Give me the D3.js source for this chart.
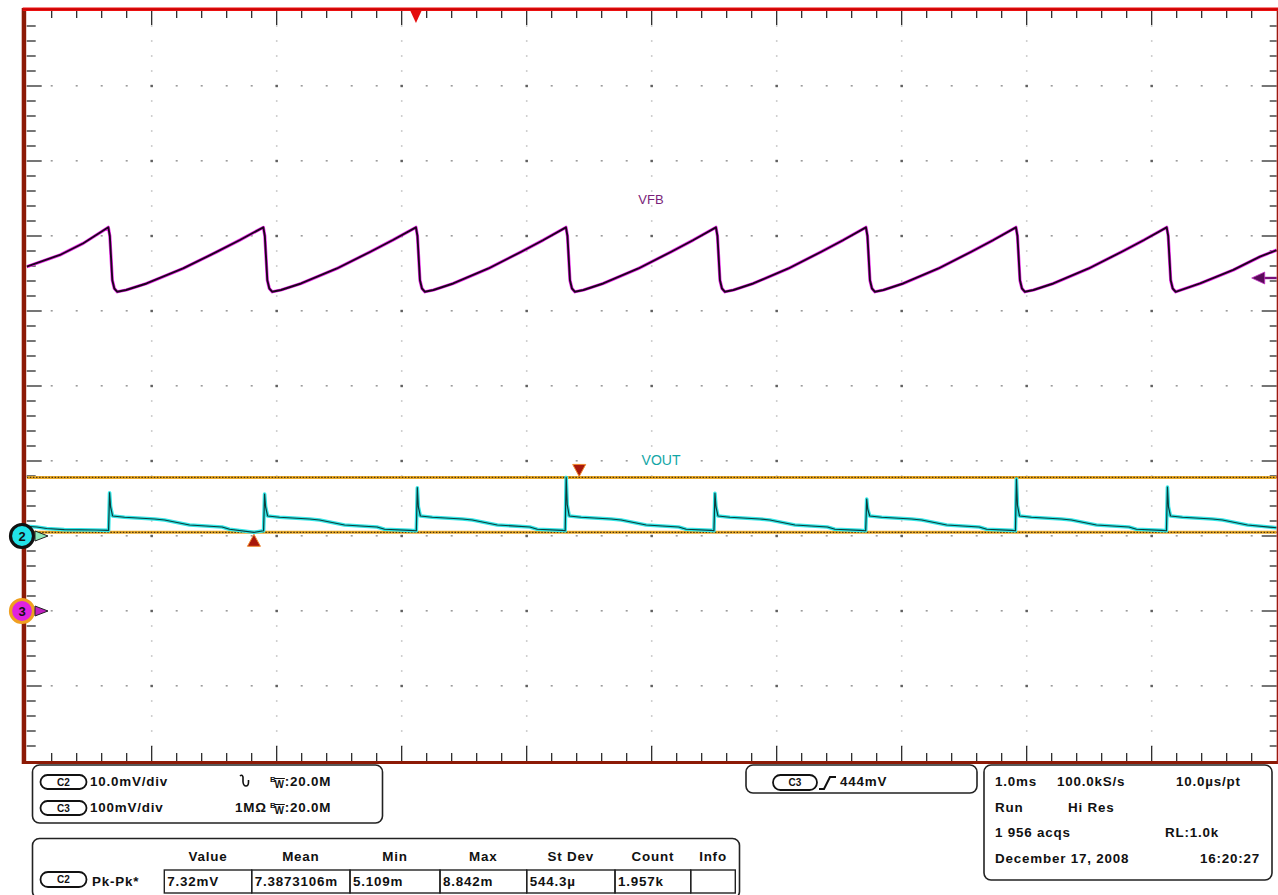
<!DOCTYPE html>
<html>
<head>
<meta charset="utf-8">
<script src="https://cdn.jsdelivr.net/npm/d3@7"></script>
<style>
  body { margin: 0; background: #fff; }
  svg { display: block; }
  text { font-family: "Liberation Sans", Arial, sans-serif; }
</style>
</head>
<body>
<svg id="scope" width="1278" height="895"></svg>
<script>
// ---- Acquisition: 10 divisions of 1.0 ms ----
const timeDomain = [0, 10];          // ms across the screen
const divDomain = [-5, 5];           // vertical divisions

// Channel setup (volts/div and ground position in divisions)
const ch2Scale = 10;   // mV/div  (VOUT)
const ch2Ground = -2;  // div
const ch3Scale = 100;  // mV/div  (VFB)
const ch3Ground = -3;  // div
const triggerLevel = 444;   // mV on C3
const triggerTime = 3.114;  // ms, trigger position marker

// VFB (channel 3) trace: [time ms, mV]
const vfbTrace = [
  [0, 459.1], [0.266, 474.7], [0.453, 490.3], [0.653, 511.6],
  [0.665, 500], [0.685, 441], [0.701, 430], [0.725, 425.6],
  [0.795, 428.0], [0.959, 436.7], [1.251, 456.7], [1.519, 478.7], [1.706, 494.7], [1.893, 511.6],
  [1.905, 500], [1.925, 441], [1.941, 430], [1.965, 425.6],
  [2.034, 428.0], [2.195, 436.7], [2.482, 456.7], [2.746, 478.7], [2.930, 494.7], [3.114, 511.6],
  [3.126, 500], [3.146, 441], [3.162, 430], [3.186, 425.6],
  [3.254, 428.0], [3.412, 436.7], [3.694, 456.7], [3.953, 478.7], [4.134, 494.7], [4.314, 511.6],
  [4.326, 500], [4.346, 441], [4.362, 430], [4.386, 425.6],
  [4.454, 428.0], [4.612, 436.7], [4.894, 456.7], [5.153, 478.7], [5.334, 494.7], [5.514, 511.6],
  [5.526, 500], [5.546, 441], [5.562, 430], [5.586, 425.6],
  [5.654, 428.0], [5.812, 436.7], [6.094, 456.7], [6.353, 478.7], [6.534, 494.7], [6.714, 511.6],
  [6.726, 500], [6.746, 441], [6.762, 430], [6.786, 425.6],
  [6.854, 428.0], [7.012, 436.7], [7.294, 456.7], [7.553, 478.7], [7.734, 494.7], [7.914, 511.6],
  [7.926, 500], [7.946, 441], [7.962, 430], [7.986, 425.6],
  [8.054, 428.0], [8.213, 436.7], [8.496, 456.7], [8.757, 478.7], [8.939, 494.7], [9.120, 511.6],
  [9.132, 500], [9.152, 441], [9.168, 430], [9.192, 425.6],
  [9.387, 436.7], [9.653, 454.7], [9.866, 472.4], [10.0, 481.3]
];

// VOUT (channel 2) ripple trace: [time ms, mV]
const voutTrace = [
  [0, 1.3], [0.08, 1.2], [0.16, 1.0], [0.30, 0.85], [0.55, 0.8], [0.655, 0.75],
  [0.663, 5.77], [0.671, 3.9], [0.687, 2.67], [0.783, 2.5], [1.023, 2.27], [1.103, 2.13],
  [1.303, 1.47], [1.563, 1.2], [1.623, 0.9], [1.818, 0.49], [1.895, 0.7],
  [1.903, 5.60], [1.911, 3.9], [1.927, 2.67], [2.023, 2.5], [2.263, 2.27], [2.343, 2.13],
  [2.543, 1.47], [2.803, 1.2], [2.863, 0.9], [3.063, 0.75], [3.117, 0.7],
  [3.125, 6.44], [3.133, 3.9], [3.149, 2.67], [3.245, 2.5], [3.485, 2.27], [3.565, 2.13],
  [3.765, 1.47], [4.025, 1.2], [4.085, 0.9], [4.285, 0.75], [4.308, 0.7],
  [4.316, 7.81], [4.324, 4.2], [4.340, 2.67], [4.436, 2.5], [4.676, 2.27], [4.756, 2.13],
  [4.956, 1.47], [5.216, 1.2], [5.276, 0.9], [5.476, 0.75], [5.498, 0.7],
  [5.506, 5.69], [5.514, 3.9], [5.530, 2.67], [5.626, 2.5], [5.866, 2.27], [5.946, 2.13],
  [6.146, 1.47], [6.406, 1.2], [6.466, 0.9], [6.666, 0.75], [6.712, 0.7],
  [6.720, 4.93], [6.728, 3.6], [6.744, 2.67], [6.840, 2.5], [7.080, 2.27], [7.160, 2.13],
  [7.360, 1.47], [7.620, 1.2], [7.680, 0.9], [7.880, 0.75], [7.910, 0.7],
  [7.918, 7.60], [7.926, 4.1], [7.942, 2.67], [8.038, 2.5], [8.278, 2.27], [8.358, 2.13],
  [8.558, 1.47], [8.818, 1.2], [8.878, 0.9], [9.078, 0.75], [9.118, 0.7],
  [9.126, 6.53], [9.134, 3.9], [9.150, 2.67], [9.246, 2.5], [9.486, 2.27], [9.566, 2.13],
  [9.766, 1.47], [10.0, 1.1]
];

// Pk-Pk annotation marker times (ms)
const maxMarkerTime = 4.42;
const minMarkerTime = 1.818;

// Readout panels
const chanRows = [
  { ch: "C2", scale: "10.0mV/div", coupling: "AC", bw: "20.0M" },
  { ch: "C3", scale: "100mV/div",  coupling: "1M\u03A9", bw: "20.0M" }
];
const trigSource = "C3";
const trigText = "444mV";
const measHeaders = ["Value", "Mean", "Min", "Max", "St Dev", "Count", "Info"];
const measValues = ["7.32mV", "7.3873106m", "5.109m", "8.842m", "544.3\u00B5", "1.957k", ""];
const measName = "Pk-Pk*";
const acqLines = [
  ["1.0ms", "100.0kS/s", "10.0\u00B5s/pt"],
  ["Run", "Hi Res", ""],
  ["1 956 acqs", "", "RL:1.0k"],
  ["December 17, 2008", "", "16:20:27"]
];

// ---- Scales ----
const svg = d3.select("#scope");
const x = d3.scaleLinear().domain(timeDomain).range([26.7, 1276.7]);
const yDiv = d3.scaleLinear().domain(divDomain).range([761, 11]);
const y2 = v => yDiv(v / ch2Scale + ch2Ground);
const y3 = v => yDiv(v / ch3Scale + ch3Ground);

const pL = x(0), pR = x(10), pT = yDiv(5), pB = yDiv(-5);

// ---- Graticule dots ----
const grid = svg.append("g");
const majorT = d3.range(1, 10);
const majorD = d3.range(-4, 5);
const minorT = d3.range(0.2, 10, 0.2);
const minorD = d3.range(-4.8, 5, 0.2);
majorD.forEach(d => {
  grid.selectAll(null).data(minorT).enter().append("rect")
    .attr("x", t => x(t) - 1).attr("y", yDiv(d) - 1)
    .attr("width", 2).attr("height", 1.6).attr("fill", "#9c9c9c");
});
majorT.forEach(t => {
  grid.selectAll(null).data(minorD).enter().append("rect")
    .attr("x", x(t) - 0.8).attr("y", d => yDiv(d) - 0.8)
    .attr("width", 1.6).attr("height", 1.6).attr("fill", "#c4c4c4");
});
majorT.forEach(t => {
  grid.selectAll(null).data(majorD).enter().append("rect")
    .attr("x", x(t) - 1.2).attr("y", d => yDiv(d) - 1.2)
    .attr("width", 2.4).attr("height", 2.4).attr("fill", "#606060");
});

// ---- Frame ticks ----
const ticks = svg.append("g").attr("stroke", "#1a1a1a").attr("stroke-width", 1.2);
const allT = d3.range(0.2, 10, 0.2);
const allD = d3.range(-4.8, 5, 0.2);
const isMajor = v => Math.abs(v - Math.round(v)) < 1e-6;
ticks.selectAll(null).data(allT).enter().append("line")
  .attr("x1", t => x(t)).attr("x2", t => x(t))
  .attr("y1", pT).attr("y2", t => pT + (isMajor(t) ? 14 : 7));
ticks.selectAll(null).data(allT).enter().append("line")
  .attr("x1", t => x(t)).attr("x2", t => x(t))
  .attr("y1", pB).attr("y2", t => pB - (isMajor(t) ? 15 : 8));
ticks.selectAll(null).data(allD).enter().append("line")
  .attr("y1", d => yDiv(d)).attr("y2", d => yDiv(d))
  .attr("x1", pL).attr("x2", d => pL + (isMajor(d) ? 15 : 9));
ticks.selectAll(null).data(allD).enter().append("line")
  .attr("y1", d => yDiv(d)).attr("y2", d => yDiv(d))
  .attr("x1", pR).attr("x2", d => pR - (isMajor(d) ? 15 : 7));

// ---- Traces ----
svg.append("clipPath").attr("id", "plotClip").append("rect")
  .attr("x", pL).attr("y", pT).attr("width", pR - pL).attr("height", pB - pT);
const traces = svg.append("g").attr("clip-path", "url(#plotClip)");

// Pk-Pk max/min level lines for C2
const vMax = d3.max(voutTrace, d => d[1]);
const vMin = d3.min(voutTrace, d => d[1]);
[vMax, vMin].forEach(v => {
  traces.append("line").attr("x1", pL).attr("x2", pR)
    .attr("y1", y2(v)).attr("y2", y2(v))
    .attr("stroke", "#e9aa2a").attr("stroke-width", 3);
  traces.append("line").attr("x1", pL).attr("x2", pR)
    .attr("y1", y2(v)).attr("y2", y2(v))
    .attr("stroke", "#4a3410").attr("stroke-width", 1.2).attr("stroke-dasharray", "1.5,1.6");
});

const line2 = d3.line().x(d => x(d[0])).y(d => y2(d[1]));
const line3 = d3.line().x(d => x(d[0])).y(d => y3(d[1]));

traces.append("path").attr("d", line2(voutTrace)).attr("fill", "none")
  .attr("stroke", "#33e6e6").attr("stroke-width", 3.6).attr("stroke-linejoin", "round");
traces.append("path").attr("d", line2(voutTrace)).attr("fill", "none")
  .attr("stroke", "#0d3c3c").attr("stroke-width", 1.2).attr("stroke-linejoin", "round");

traces.append("path").attr("d", line3(vfbTrace)).attr("fill", "none")
  .attr("stroke", "#f030f0").attr("stroke-width", 3.2).attr("stroke-linejoin", "round");
traces.append("path").attr("d", line3(vfbTrace)).attr("fill", "none")
  .attr("stroke", "#1c051c").attr("stroke-width", 1.9).attr("stroke-linejoin", "round");

// Trace labels
function traceLabel(cx, by, s, size, color, w) {
  svg.append("rect").attr("x", cx - w / 2).attr("y", by - size + 1).attr("width", w).attr("height", size)
    .attr("fill", "#fff");
  svg.append("text").attr("x", cx).attr("y", by).attr("text-anchor", "middle")
    .attr("font-size", size).attr("fill", color).text(s);
}
traceLabel(651, 204, "VFB", 13, "#7a1f7a", 28);
traceLabel(661, 465, "VOUT", 14, "#12a6a6", 40);

// ---- Frame border ----
svg.append("rect").attr("x", pL - 5).attr("y", pT - 3).attr("width", 4.5).attr("height", pB - pT + 6).attr("fill", "#8c1a06");
svg.append("rect").attr("x", pL - 4).attr("y", pB).attr("width", pR - pL + 5).attr("height", 3).attr("fill", "#8c1a06");
svg.append("rect").attr("x", pR).attr("y", pT - 3).attr("width", 2).attr("height", pB - pT + 6).attr("fill", "#9c1a10");
svg.append("rect").attr("x", pL - 4).attr("y", pT - 3.5).attr("width", pR - pL + 6).attr("height", 3.5).attr("fill", "#ec1010");
svg.append("line").attr("x1", pL - 4).attr("x2", pR + 2).attr("y1", pT - 1.8).attr("y2", pT - 1.8)
  .attr("stroke", "#b80000").attr("stroke-width", 1);

// ---- Markers ----
// trigger position
const tp = x(triggerTime);
svg.append("path").attr("d", `M${tp - 6},${pT - 1} L${tp + 6},${pT - 1} L${tp},${pT + 12} Z`).attr("fill", "#e50d0d");

// Pk-Pk max / min markers
const mx = x(maxMarkerTime), my = y2(vMax);
svg.append("path").attr("d", `M${mx - 6.5},${my - 13} L${mx + 6.5},${my - 13} L${mx},${my - 1} Z`)
  .attr("fill", "#a8180c").attr("stroke", "#f08a30").attr("stroke-width", 1);
const nx = x(minMarkerTime), ny = y2(vMin);
svg.append("path").attr("d", `M${nx - 6.5},${ny + 14} L${nx + 6.5},${ny + 14} L${nx},${ny + 2} Z`)
  .attr("fill", "#a8180c").attr("stroke", "#f08a30").attr("stroke-width", 1);

// trigger level arrow (right edge)
const ty = y3(triggerLevel);
svg.append("line").attr("x1", pR - 14).attr("x2", pR).attr("y1", ty).attr("y2", ty)
  .attr("stroke", "#7a107a").attr("stroke-width", 2.4);
svg.append("path").attr("d", `M${pR - 25},${ty} L${pR - 12},${ty - 6} L${pR - 12},${ty + 6} Z`)
  .attr("fill", "#5a0a5a").attr("stroke", "#c030c0").attr("stroke-width", 0.8);

// channel ground markers
function chanMarker(cy, label, fill, ring, ringW, arrowFill) {
  const g = svg.append("g");
  g.append("circle").attr("cx", 22).attr("cy", cy).attr("r", 11.5)
    .attr("fill", fill).attr("stroke", ring).attr("stroke-width", ringW);
  g.append("text").attr("x", 22).attr("y", cy + 4.5).attr("text-anchor", "middle")
    .attr("font-size", 13).attr("font-weight", "bold").attr("fill", "#111").text(label);
  g.append("path").attr("d", `M35,${cy - 5} L48,${cy} L35,${cy + 5} Z`)
    .attr("fill", arrowFill).attr("stroke", "#222").attr("stroke-width", 1);
}
chanMarker(yDiv(ch2Ground), "2", "#22e2e8", "#111", 3.2, "#8ee8b8");
chanMarker(yDiv(ch3Ground), "3", "#e022e0", "#f0a020", 3.2, "#c020c0");

// ---- Readout panels ----
const panel = svg.append("g").attr("font-weight", "bold").attr("font-size", 13.4).attr("fill", "#111");
function box(x0, y0, w, h) {
  panel.append("rect").attr("x", x0).attr("y", y0).attr("width", w).attr("height", h)
    .attr("rx", 7).attr("fill", "#fff").attr("stroke", "#222").attr("stroke-width", 1.6);
}
function pill(x0, y0, w, h, label) {
  panel.append("rect").attr("x", x0).attr("y", y0).attr("width", w).attr("height", h)
    .attr("rx", h / 2).attr("fill", "#fff").attr("stroke", "#111").attr("stroke-width", 1.8);
  panel.append("text").attr("x", x0 + w / 2).attr("y", y0 + h / 2 + 3.5).attr("text-anchor", "middle")
    .attr("font-size", 10).text(label);
}
function txt(tx, ty, s, anchor) {
  return panel.append("text").attr("x", tx).attr("y", ty).attr("letter-spacing", 0.8)
    .attr("text-anchor", anchor || "start").text(s);
}
function bwText(tx, ty, v) {
  const t = panel.append("text").attr("x", tx).attr("y", ty).attr("letter-spacing", 0.8);
  t.append("tspan").attr("font-size", 8).attr("dy", -4).text("B");
  t.append("tspan").attr("font-size", 10).attr("dx", -2).attr("dy", 6).attr("text-decoration", "overline").text("W");
  t.append("tspan").attr("dy", -2).text(":" + v);
}

// channel box
box(32.5, 765, 350, 58);
chanRows.forEach((r, i) => {
  const by = 786 + i * 26;
  pill(40.5, by - 11, 46, 14, r.ch);
  txt(90, by, r.scale);
  if (r.coupling === "AC") {
    // AC coupling glyph: vertical sine stroke
    panel.append("path")
      .attr("d", `M240,${by - 10} q2,-2 3,1 l0,5 q0.5,4 3,4 q2.5,0 2.5,-4 l0,-2`)
      .attr("fill", "none").attr("stroke", "#111").attr("stroke-width", 1.6);
  } else {
    txt(235, by, r.coupling);
  }
  bwText(270, by, r.bw);
});

// trigger box
box(746, 765, 231, 28);
pill(773, 775, 44, 15, trigSource);
panel.append("path").attr("d", "M819,789 L824,789 L830,777 L836,777").attr("fill", "none")
  .attr("stroke", "#111").attr("stroke-width", 2);
txt(840, 786, trigText);

// acquisition box
box(984, 765, 288, 115);
const acqX = [995, 1057, 1176];
acqLines.forEach((row, i) => {
  const by = 786 + i * 25.7;
  row.forEach((s, j) => {
    if (!s) return;
    if (i >= 2 && j === 2) {
      if (i === 2) txt(1165, by, s); else txt(1260, by, s, "end");
    } else if (i === 1 && j === 1) {
      txt(1068, by, s);
    } else {
      txt(acqX[j], by, s);
    }
  });
});

// measurement box
box(32.5, 838.5, 707, 60);
const cellEdges = [164.3, 251.7, 350, 440, 526.7, 615, 690.7, 735.3];
measHeaders.forEach((h, i) => {
  txt((cellEdges[i] + cellEdges[i + 1]) / 2, 861, h, "middle");
});
measValues.forEach((v, i) => {
  panel.append("rect").attr("x", cellEdges[i]).attr("y", 870).attr("width", cellEdges[i + 1] - cellEdges[i])
    .attr("height", 23).attr("fill", "none").attr("stroke", "#222").attr("stroke-width", 1.4);
  if (v) txt(cellEdges[i] + 3, 886, v);
});
pill(40.5, 872, 46, 15, "C2");
txt(92, 886, measName);
</script>
</body>
</html>
